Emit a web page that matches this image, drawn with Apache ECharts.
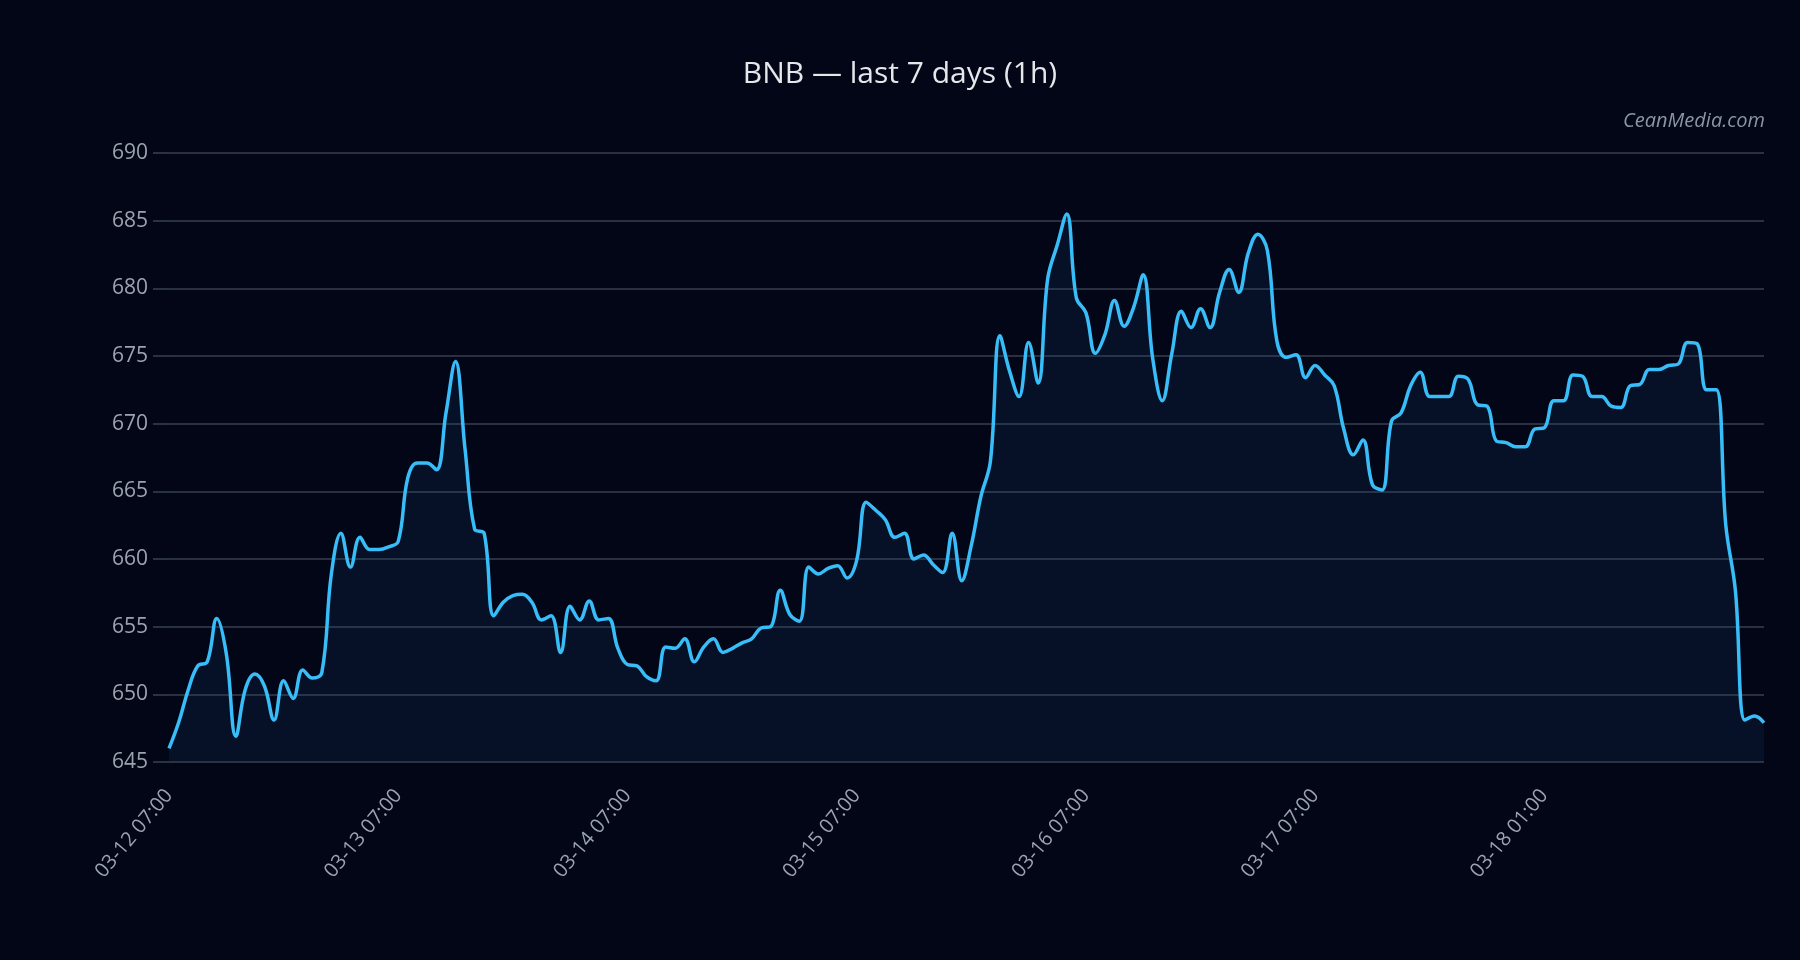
<!DOCTYPE html>
<html><head><meta charset="utf-8">
<script src="https://cdn.jsdelivr.net/npm/echarts@6/dist/echarts.min.js"></script>
<style>html,body{margin:0;padding:0;background:#020617;}#c{width:1800px;height:960px;}</style>
</head><body><div id="c"></div>
<script>
const prices = [646.0,647.9,650.3,652.1,652.4,655.6,653.0,646.9,650.4,651.5,650.6,648.1,651.0,649.7,651.8,651.2,651.6,658.9,661.9,659.4,661.6,660.7,660.7,660.9,661.3,666.0,667.1,667.1,666.6,670.8,674.6,668.1,662.2,661.9,655.8,656.8,657.3,657.4,656.8,655.5,655.8,653.1,656.5,655.5,
656.9,655.5,655.6,653.4,652.2,652.1,651.3,651.0,653.5,653.4,654.1,652.4,653.5,654.1,653.1,653.4,653.8,654.1,654.9,655.0,657.7,655.9,655.4,659.4,658.9,659.3,659.5,658.6,659.9,664.2,663.6,662.9,661.6,661.9,660.0,660.3,659.6,659.0,661.9,658.4,661.0,664.6,
667.2,676.5,673.9,672.0,676.0,673.0,680.7,683.2,685.5,679.3,678.2,675.2,676.6,679.1,677.2,678.6,681.0,674.8,671.7,675.2,678.3,677.1,678.5,677.1,679.7,681.4,679.7,682.6,684.0,682.8,676.1,674.9,675.1,673.4,674.3,673.6,672.8,669.6,667.7,668.8,
665.5,665.1,670.2,670.8,672.8,673.8,672.0,672.0,672.0,673.5,673.3,671.4,671.3,668.7,668.6,668.3,668.3,669.6,669.7,671.7,671.7,673.6,673.5,672.0,672.0,671.3,671.2,672.8,672.9,674.0,674.0,674.3,674.4,676.0,675.9,672.5,672.5,662.5,657.7,648.1,648.4,647.9];
const tickIdx = [0,24,48,72,96,120,144];
const tickText = ['03-12 07:00','03-13 07:00','03-14 07:00','03-15 07:00','03-16 07:00','03-17 07:00','03-18 01:00'];
const times = prices.map((_, i) => {
  const k = tickIdx.indexOf(i);
  return k >= 0 ? tickText[k] : 'h' + i;
});
const FONT = 'Open Sans';
const chart = echarts.init(document.getElementById('c'));
chart.setOption({
  backgroundColor: '#020617',
  title: [{text: 'BNB — last 7 days (1h)', left: 'center', top: 54,
    textStyle: {color: '#e5e7eb', fontSize: 30, fontWeight: 'normal', fontFamily: FONT}},
    {text: 'CeanMedia.com', right: 30, top: 106,
    textStyle: {color: '#8b95a5', fontSize: 20, fontStyle: 'italic', fontWeight: 'normal', fontFamily: FONT}}],
  grid: {left: 169, right: 36, top: 153, bottom: 198},
  xAxis: {type: 'category', data: times, boundaryGap: false,
    axisLine: {show: false}, axisTick: {show: false},
    axisLabel: {color: '#9ca3af', fontSize: 20, rotate: 50, margin: 30, fontFamily: FONT,
      interval: (i) => tickIdx.includes(i)}},
  yAxis: {type: 'value', min: 645, max: 690, interval: 5,
    axisLine: {show: false}, axisTick: {show: true, length: 16, lineStyle: {color: '#374151', width: 1.5}},
    axisLabel: {color: '#9ca3af', fontSize: 21, margin: 21, fontFamily: FONT},
    splitLine: {lineStyle: {color: '#374151', width: 1.5}}},
  series: [{type: 'line', data: prices, smooth: 0.4, symbol: 'none',
    lineStyle: {color: '#38bdf8', width: 3.5},
    areaStyle: {color: 'rgba(30,80,130,0.22)'}}]
});
</script></body></html>
